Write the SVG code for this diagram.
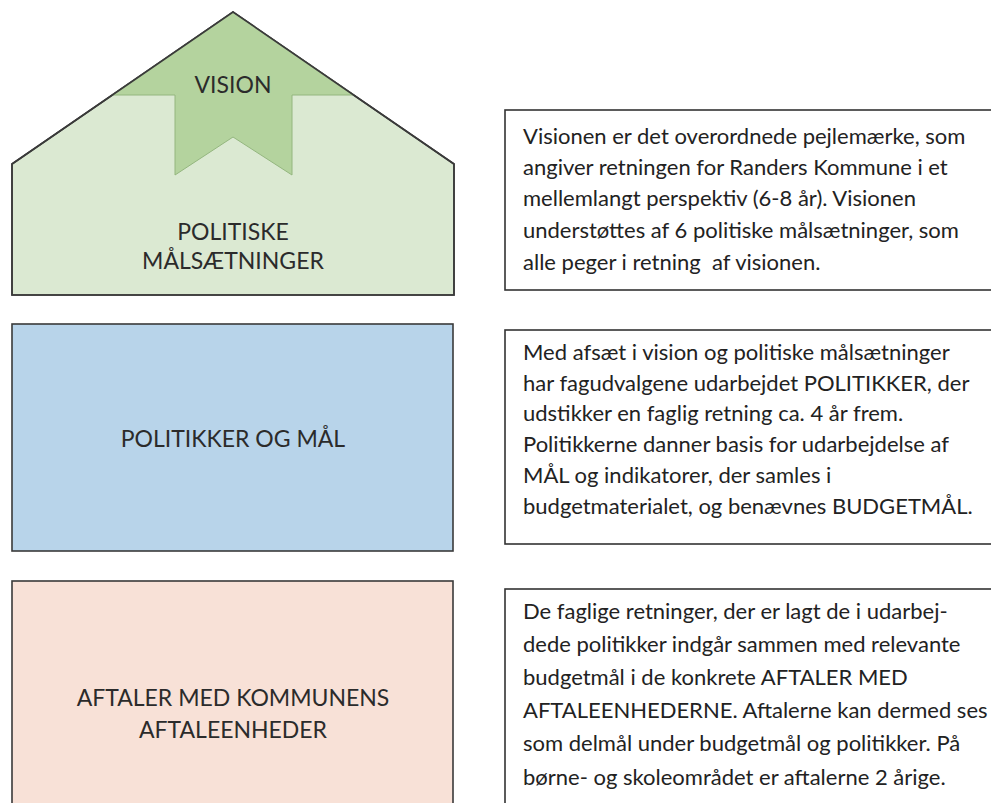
<svg xmlns="http://www.w3.org/2000/svg" width="991" height="803" viewBox="0 0 991 803">
<style>
.lbl{font-family:Lato,"Liberation Sans",Arial,sans-serif;font-size:23px;fill:#2b2b2b;text-anchor:middle}
.txt{font-family:Lato,"Liberation Sans",Arial,sans-serif;font-size:22px;fill:#222}
.box{fill:#ffffff;stroke:#333;stroke-width:1.6}
.shape{stroke:#3a3a3a;stroke-width:1.6}
</style>
<defs>
<clipPath id="c1"><rect x="505" y="110" width="486" height="170"/></clipPath>
</defs>
<rect width="991" height="803" fill="#ffffff"/>
<g id="house">
<polygon class="shape" points="12,164 233,12 454,164 454,295 12,295" fill="#dbe9d2"/>
<polygon points="112,95 233,12 354,95 292,95 292,175 233,137 175,175 175,95" fill="#b4d39e" stroke="#94b67f" stroke-width="1"/>
<polygon points="12,164 233,12 454,164 454,295 12,295" fill="none" class="shape"/>
<text class="lbl" x="233" y="93">VISION</text>
<text class="lbl" x="233" y="240">POLITISKE</text>
<text class="lbl" x="233" y="269">MÅLSÆTNINGER</text>
</g>
<g id="politikker">
<rect class="shape" x="12" y="324" width="441" height="227" fill="#b8d4ea"/>
<text class="lbl" x="233" y="447">POLITIKKER OG MÅL</text>
</g>
<g id="aftaler">
<rect class="shape" x="12" y="581" width="441" height="240" fill="#f8e1d7"/>
<text class="lbl" x="233" y="706">AFTALER MED KOMMUNENS</text>
<text class="lbl" x="233" y="738">AFTALEENHEDER</text>
</g>
<g id="tekst1">
<rect class="box" x="505" y="110" width="500" height="180"/>
<g clip-path="url(#c1)">
<text class="txt" x="523" y="144">Visionen er det overordnede pejlemærke, som</text>
<text class="txt" x="523" y="175">angiver retningen for Randers Kommune i et</text>
<text class="txt" x="523" y="206">mellemlangt perspektiv (6-8 år). Visionen</text>
<text class="txt" x="523" y="238">understøttes af 6 politiske målsætninger, som</text>
<text class="txt" x="523" y="270" xml:space="preserve">alle peger i retning  af visionen.</text>
</g>
</g>
<g id="tekst2">
<rect class="box" x="505" y="330" width="500" height="214"/>
<text class="txt" x="523" y="360">Med afsæt i vision og politiske målsætninger</text>
<text class="txt" x="523" y="391">har fagudvalgene udarbejdet POLITIKKER, der</text>
<text class="txt" x="523" y="421">udstikker en faglig retning ca. 4 år frem.</text>
<text class="txt" x="523" y="452">Politikkerne danner basis for udarbejdelse af</text>
<text class="txt" x="523" y="483">MÅL og indikatorer, der samles i</text>
<text class="txt" x="523" y="514">budgetmaterialet, og benævnes BUDGETMÅL.</text>
</g>
<g id="tekst3">
<rect class="box" x="505" y="589" width="500" height="240"/>
<text class="txt" x="523" y="619">De faglige retninger, der er lagt de i udarbej-</text>
<text class="txt" x="523" y="652">dede politikker indgår sammen med relevante</text>
<text class="txt" x="523" y="685">budgetmål i de konkrete AFTALER MED</text>
<text class="txt" x="523" y="718">AFTALEENHEDERNE. Aftalerne kan dermed ses</text>
<text class="txt" x="523" y="751">som delmål under budgetmål og politikker. På</text>
<text class="txt" x="523" y="785">børne- og skoleområdet er aftalerne 2 årige.</text>
</g>
<g id="connectors"></g>
</svg>
